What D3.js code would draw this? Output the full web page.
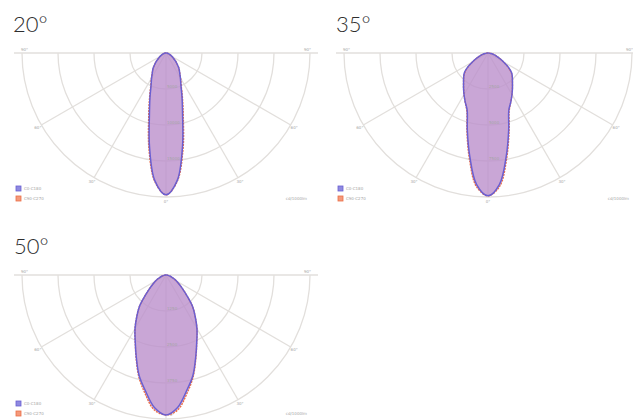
<!DOCTYPE html>
<html lang="en">
<head>
  <meta charset="UTF-8">
  <title>Beam angles</title>
  <style>
    body { margin: 0; background: #fff; }
    .title { font-family: Lato, 'Open Sans', sans-serif; font-weight: 300; font-size: 22px; fill: #2e2e2e; }
    .tiny { font-family: 'DejaVu Sans', sans-serif; font-size: 4px; fill: #a5a5a5; }
  </style>
</head>
<body>
<svg id="svg" width="633" height="420"></svg>
<script src="https://cdnjs.cloudflare.com/ajax/libs/d3/7.8.5/d3.min.js"></script>
<script>
  // ------ DATA ------------------------
  // gamma angles (deg from nadir), intensities in cd/1000lm
  const gammas = [0, 5, 10, 15, 20, 25, 30, 35, 40, 45, 50, 55, 60, 65, 70, 75, 80, 85, 90]
  const seriesNames = ['C0-C180', 'C90-C270']
  const gridAngles = [0, 30, 60, 90]

  const titles = ['20°', '35°', '50°']
  const ringValues20 = [5000, 10000, 15000, 20000]
  const ringValues35 = [2500, 5000, 7500, 10000]
  const ringValues50 = [1250, 2500, 3750, 5000]

  const c0_20 = [19700, 17800, 13200, 8900, 6500, 4900, 4000, 3300, 2800, 2200, 1700, 1250, 970, 700, 490, 350, 210, 110, 0]
  const c90_20 = [19700, 17900, 13600, 9300, 6700, 5000, 4050, 3300, 2800, 2200, 1700, 1250, 970, 700, 490, 350, 210, 110, 0]
  const c0_35 = [9920, 9160, 7290, 5550, 4230, 3750, 3330, 2960, 2640, 2390, 2150, 1740, 1250, 900, 620, 420, 210, 100, 0]
  const c90_35 = [9920, 9300, 7450, 5650, 4300, 3750, 3330, 2960, 2640, 2390, 2100, 1700, 1250, 900, 620, 420, 210, 100, 0]
  const c0_50 = [4860, 4620, 4090, 3610, 3020, 2530, 2150, 1770, 1440, 1040, 760, 560, 420, 310, 210, 140, 70, 35, 0]
  const c90_50 = [4860, 4700, 4180, 3650, 3040, 2530, 2150, 1770, 1440, 1040, 760, 560, 420, 310, 210, 140, 70, 35, 0]

  // CONSTANTS
  const R = 144
  const colors = { blue: '#6a5fd2', orange: '#ec6f47', fill: '#bb8fcc', grid: '#e2dfdc' }

  const charts = [
    { title: titles[0], cx: 166, cy: 53, rings: ringValues20, series: [c0_20, c90_20], tx: 13, ty: 32, legY: 133 },
    { title: titles[1], cx: 488, cy: 53, rings: ringValues35, series: [c0_35, c90_35], tx: 336, ty: 32, legY: 133 },
    { title: titles[2], cx: 166, cy: 275, rings: ringValues50, series: [c0_50, c90_50], tx: 14, ty: 254, legY: 126 }
  ]

  const svg = d3.select('#svg')
  const rad = d => d * Math.PI / 180

  charts.forEach((c, ci) => {
    svg.append('text').attr('class', 'title').attr('x', c.tx).attr('y', c.ty).text(c.title)

    svg.append('clipPath').attr('id', 'clip' + ci)
      .append('rect').attr('x', c.cx - 153).attr('y', c.cy - 8).attr('width', 306).attr('height', 160)

    const g = svg.append('g').attr('clip-path', `url(#clip${ci})`)
      .append('g').attr('transform', `translate(${c.cx},${c.cy})`)

    const rscale = d3.scaleLinear().domain([0, d3.max(c.rings)]).range([0, R])

    // ------ GRID ------------------------
    g.selectAll('path.ring').data(c.rings).join('path')
      .attr('class', 'ring')
      .attr('d', d => d3.arc()({ innerRadius: rscale(d), outerRadius: rscale(d), startAngle: Math.PI / 2, endAngle: 3 * Math.PI / 2 }))
      .attr('fill', 'none').attr('stroke', colors.grid).attr('stroke-width', 1.3)

    const spokes = []
    gridAngles.forEach(a => { spokes.push(a); if (a !== 0) spokes.push(-a) })
    g.selectAll('line.spoke').data(spokes).join('line')
      .attr('class', 'spoke')
      .attr('x1', 0).attr('y1', 0)
      .attr('x2', d => Math.sin(rad(d)) * (Math.abs(d) === 90 ? R + 8 : R))
      .attr('y2', d => Math.cos(rad(d)) * (Math.abs(d) === 90 ? R + 8 : R))
      .attr('stroke', colors.grid).attr('stroke-width', 1.3)

    // angle labels
    g.selectAll('text.ang').data(spokes).join('text')
      .attr('class', 'tiny')
      .attr('text-anchor', d => d === 90 ? 'end' : d === -90 ? 'start' : 'middle')
      .attr('x', d => {
        if (Math.abs(d) === 90) return Math.sign(d) * (R + 1)
        if (d === 0 && c.cy + R + 6 > 420) return 6
        return Math.sin(rad(d)) * (R + 4)
      })
      .attr('y', d => {
        if (Math.abs(d) === 90) return -2
        if (d === 0 && c.cy + R + 6 > 420) return R - 3
        return Math.cos(rad(d)) * (R + 4) + 1.5
      })
      .text(d => Math.abs(d) + '°')

    // ------ CURVES ------------------------
    const radial = d3.lineRadial().curve(d3.curveCatmullRomClosed.alpha(0.5))
    const shape = vals => {
      const pts = []
      for (let i = gammas.length - 1; i >= 0; i--) pts.push([Math.PI - rad(gammas[i]), rscale(vals[i])])
      for (let i = 1; i < gammas.length; i++) pts.push([Math.PI + rad(gammas[i]), rscale(vals[i])])
      return radial(pts)
    }

    g.append('path').attr('d', shape(c.series[1]))
      .attr('fill', colors.fill).attr('fill-opacity', 0.55)
    g.append('path').attr('d', shape(c.series[0]))
      .attr('fill', colors.fill).attr('fill-opacity', 0.55)

    g.append('path').attr('d', shape(c.series[1]))
      .attr('fill', 'none').attr('stroke', colors.orange).attr('stroke-width', 1.4)
      .attr('stroke-dasharray', '2,1')
    g.append('path').attr('d', shape(c.series[0]))
      .attr('fill', 'none').attr('stroke', colors.blue).attr('stroke-width', 1.5)

    // ring labels along the nadir axis
    g.selectAll('text.ringlab').data(c.rings.slice(0, 3)).join('text')
      .attr('class', 'tiny').attr('fill', '#8d6f9c')
      .attr('x', 1).attr('y', d => rscale(d) - 1)
      .text(d => d)

    // ------ LEGEND ------------------------
    const leg = g.selectAll('g.leg').data(seriesNames).join('g')
      .attr('transform', (d, i) => `translate(${-150},${c.legY + i * 10})`)
    leg.append('rect').attr('width', 5).attr('height', 5)
      .attr('fill', (d, i) => i === 0 ? '#8f8ae0' : '#f49a7c')
      .attr('stroke', (d, i) => i === 0 ? colors.blue : colors.orange).attr('stroke-width', 0.8)
    leg.append('text').attr('class', 'tiny').attr('fill', '#777').attr('x', 8).attr('y', 4.2).text(d => d)

    g.append('text').attr('class', 'tiny').attr('fill', '#777')
      .attr('text-anchor', 'end').attr('x', 141).attr('y', c.legY + 14).text('cd/1000lm')
  })
</script>
</body>
</html>
